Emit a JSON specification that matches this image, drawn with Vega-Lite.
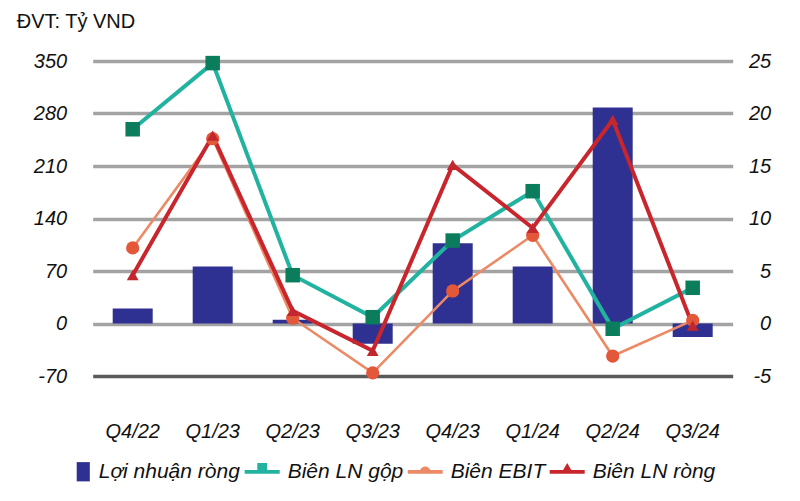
{
  "$schema": "https://vega.github.io/schema/vega-lite/v6.json",
  "width": 640,
  "height": 315,
  "autosize": "none",
  "padding": {"left": 92.7, "top": 61, "right": 67.3, "bottom": 125},
  "background": "white",
  "title": {"text": "ĐVT: Tỷ VND", "anchor": "start", "frame": "group", "dx": -76, "offset": 19, "fontSize": 20, "font": "Liberation Sans", "fontWeight": "normal", "color": "#111111"},
  "config": {
    "view": {"stroke": null},
    "axis": {"domain": false, "ticks": false, "labelFont": "Liberation Sans", "labelFontStyle": "italic", "labelColor": "#111111", "labelFontSize": 20, "title": null}
  },
  "data": {"values": [
    {"q": "Q4/22", "series": "Lợi nhuận ròng", "value": 20},
    {"q": "Q1/23", "series": "Lợi nhuận ròng", "value": 76},
    {"q": "Q2/23", "series": "Lợi nhuận ròng", "value": 5},
    {"q": "Q3/23", "series": "Lợi nhuận ròng", "value": -27},
    {"q": "Q4/23", "series": "Lợi nhuận ròng", "value": 107},
    {"q": "Q1/24", "series": "Lợi nhuận ròng", "value": 76},
    {"q": "Q2/24", "series": "Lợi nhuận ròng", "value": 288},
    {"q": "Q3/24", "series": "Lợi nhuận ròng", "value": -18},
    {"q": "Q4/22", "series": "Biên EBIT", "value": 7.2},
    {"q": "Q1/23", "series": "Biên EBIT", "value": 17.6},
    {"q": "Q2/23", "series": "Biên EBIT", "value": 0.5},
    {"q": "Q3/23", "series": "Biên EBIT", "value": -4.7},
    {"q": "Q4/23", "series": "Biên EBIT", "value": 3.1},
    {"q": "Q1/24", "series": "Biên EBIT", "value": 8.4},
    {"q": "Q2/24", "series": "Biên EBIT", "value": -3.1},
    {"q": "Q3/24", "series": "Biên EBIT", "value": 0.3},
    {"q": "Q4/22", "series": "Biên LN gộp", "value": 18.5},
    {"q": "Q1/23", "series": "Biên LN gộp", "value": 24.8},
    {"q": "Q2/23", "series": "Biên LN gộp", "value": 4.6},
    {"q": "Q3/23", "series": "Biên LN gộp", "value": 0.6},
    {"q": "Q4/23", "series": "Biên LN gộp", "value": 7.9},
    {"q": "Q1/24", "series": "Biên LN gộp", "value": 12.6},
    {"q": "Q2/24", "series": "Biên LN gộp", "value": -0.5},
    {"q": "Q3/24", "series": "Biên LN gộp", "value": 3.4},
    {"q": "Q4/22", "series": "Biên LN ròng", "value": 4.6},
    {"q": "Q1/23", "series": "Biên LN ròng", "value": 17.9},
    {"q": "Q2/23", "series": "Biên LN ròng", "value": 1.2},
    {"q": "Q3/23", "series": "Biên LN ròng", "value": -2.6},
    {"q": "Q4/23", "series": "Biên LN ròng", "value": 15.1},
    {"q": "Q1/24", "series": "Biên LN ròng", "value": 9.1},
    {"q": "Q2/24", "series": "Biên LN ròng", "value": 19.4},
    {"q": "Q3/24", "series": "Biên LN ròng", "value": -0.2}
  ]},
  "encoding": {
    "x": {"field": "q", "type": "ordinal", "sort": null,
      "scale": {"type": "band", "paddingInner": 0, "paddingOuter": 0},
      "axis": {"labelAngle": 0, "labelPadding": 45, "labelFontSize": 20}}
  },
  "layer": [
    {
      "transform": [{"filter": "datum.series === 'Lợi nhuận ròng'"}],
      "mark": {"type": "bar", "width": {"band": 0.5}},
      "encoding": {
        "y": {"field": "value", "type": "quantitative",
          "scale": {"domain": [-70, 350], "nice": false, "zero": false},
          "axis": {"values": [-70, 0, 70, 140, 210, 280, 350], "grid": true, "gridWidth": 3.5,
            "gridColor": {"condition": {"test": "datum.value === -70", "value": "#5a5a5a"}, "value": "#a3a3a3"},
            "labelExpr": "replace(datum.label, '−', '-')",
            "labelPadding": 26}},
        "color": {"field": "series", "type": "nominal",
          "scale": {"domain": ["Lợi nhuận ròng", "Biên LN gộp", "Biên EBIT", "Biên LN ròng"], "range": ["#2E3192", "#22B2A0", "#EC8A66", "#C8262C"]},
          "legend": {"title": null, "orient": "none", "direction": "horizontal", "legendX": -37, "legendY": 393,
            "labelFontSize": 21, "labelFontStyle": "italic", "labelFont": "Liberation Sans", "labelColor": "#111111",
            "symbolSize": 1225, "labelOffset": 8, "columnPadding": 4, "labelLimit": 300,
            "encode": {"symbols": {"update": {
              "fill": {"scale": "color", "field": "value"},
              "strokeWidth": {"value": 0},
              "opacity": {"value": 1},
              "shape": {"signal": "datum.value === 'Lợi nhuận ròng' ? 'M0.2,-0.55H0.95V0.55H0.2Z' : datum.value === 'Biên LN gộp' ? 'M-1,-0.1H1V0.12H-1Z M-0.28,-0.5H0.28V0H-0.28Z' : datum.value === 'Biên EBIT' ? 'M-1,-0.1H1V0.12H-1Z M-0.3,0 A0.3,0.3 0 0,1 0.3,0 Z' : 'M-1,-0.1H1V0.12H-1Z M-0.35,0.1 L0,-0.5 L0.35,0.1 Z'"}
            }}}}}
      }
    },
    {
      "transform": [{"filter": "datum.series !== 'Lợi nhuận ròng'"}],
      "encoding": {
        "y": {"field": "value", "type": "quantitative",
          "scale": {"domain": [-5, 25], "nice": false, "zero": false},
          "axis": {"orient": "right", "values": [-5, 0, 5, 10, 15, 20, 25], "grid": false, "labelAlign": "right", "labelPadding": 38,
            "labelExpr": "replace(datum.label, '−', '-')"}}
      },
      "layer": [
        {
          "mark": {"type": "line"},
          "encoding": {
            "color": {"field": "series", "type": "nominal",
              "scale": {"domain": ["Lợi nhuận ròng", "Biên LN gộp", "Biên EBIT", "Biên LN ròng"], "range": ["#2E3192", "#22B2A0", "#EC8A66", "#C8262C"]}},
            "strokeWidth": {"condition": {"test": "datum.series === 'Biên EBIT'", "value": 2.6}, "value": 4},
            "order": {"field": "series"}
          }
        },
        {
          "mark": {"type": "point", "filled": true, "opacity": 1, "strokeWidth": 0},
          "encoding": {
            "fill": {"field": "series", "type": "nominal", "scale": {"domain": ["Biên LN gộp", "Biên EBIT", "Biên LN ròng"], "range": ["#0B7D5C", "#E4583A", "#C3272E"]}, "legend": null},
            "shape": {"field": "series", "type": "nominal", "scale": {"domain": ["Biên LN gộp", "Biên EBIT", "Biên LN ròng"], "range": ["square", "circle", "triangle-up"]}, "legend": null},
            "size": {"field": "series", "type": "nominal", "scale": {"domain": ["Biên LN gộp", "Biên EBIT", "Biên LN ròng"], "range": [210, 140, 400]}, "legend": null}
          }
        }
      ]
    }
  ],
  "resolve": {"scale": {"y": "independent"}}
}
